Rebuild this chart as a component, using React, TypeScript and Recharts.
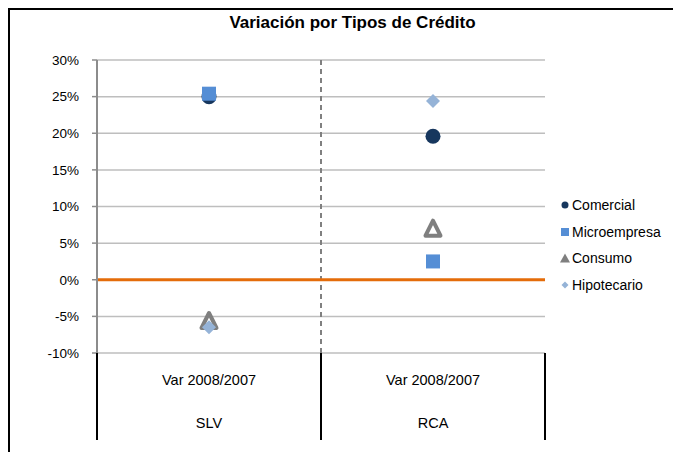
import React from 'react';
import {
  ScatterChart, Scatter, XAxis, YAxis, CartesianGrid, ReferenceLine,
} from 'recharts';

const categories = ['SLV', 'RCA'];
const subLabel = 'Var 2008/2007';
const comercial = [25.0, 19.6];
const microempresa = [25.4, 2.5];
const consumo = [-5.7, 6.9];
const hipotecario = [-6.5, 24.4];
const yTicks = [-10, -5, 0, 5, 10, 15, 20, 25, 30];

const FONT = '"Liberation Sans", Arial, Helvetica, sans-serif';

const toPoints = (vals: number[]) => vals.map((v, i) => ({ x: i + 0.5, y: v, cat: categories[i] }));

const xTicks: number[] = [];
for (let i = 0; i <= categories.length; i++) {
  xTicks.push(i);
  if (i < categories.length) xTicks.push(i + 0.5);
}

const Circle = (p: any) => <circle cx={p.cx} cy={p.cy} r={7.5} fill="#17375E" />;
const Square = (p: any) => <rect x={p.cx - 7} y={p.cy - 7} width={14} height={14} fill="#558ED5" />;
const Triangle = (p: any) => {
  const s = 7.5;
  const pts = `${p.cx},${p.cy - s - 1} ${p.cx + s},${p.cy + s - 1} ${p.cx - s},${p.cy + s - 1}`;
  return <polygon points={pts} fill="#FFFFFF" stroke="#7F7F7F" strokeWidth={4} strokeLinejoin="round" />;
};
const Diamond = (p: any) => {
  const s = 7;
  const pts = `${p.cx},${p.cy - s} ${p.cx + s},${p.cy} ${p.cx},${p.cy + s} ${p.cx - s},${p.cy}`;
  return <polygon points={pts} fill="#95B3D7" />;
};

const CatTick = (props: any) => {
  const { x, y, payload } = props;
  const v = payload.value as number;
  if (Number.isInteger(v)) {
    return (
      <g>
        <line x1={x} x2={x} y1={y} y2={y + 87} stroke="#000" strokeWidth={2} />
      </g>
    );
  }
  const name = categories[Math.floor(v)];
  return (
    <g>
      <text x={x} y={y + 32} textAnchor="middle" fontSize={14.5} fontFamily={FONT} fill="#000">{subLabel}</text>
      <text x={x} y={y + 75} textAnchor="middle" fontSize={14.5} fontFamily={FONT} fill="#000">{name}</text>
    </g>
  );
};

const legendItems = [
  { name: 'Comercial', icon: <circle cx={5} cy={6} r={3.5} fill="#17375E" /> },
  { name: 'Microempresa', icon: <rect x={1} y={2} width={8} height={8} fill="#558ED5" /> },
  { name: 'Consumo', icon: <polygon points="5,1.5 10,10.5 0,10.5" fill="#7F7F7F" /> },
  { name: 'Hipotecario', icon: <polygon points="5,2.5 8.5,6 5,9.5 1.5,6" fill="#95B3D7" /> },
];

const LegendBox = () => (
  <div style={{ position: 'absolute', left: 550, top: 182, fontFamily: FONT, fontSize: 14, color: '#000' }}>
    {legendItems.map((it) => (
      <div key={it.name} style={{ display: 'flex', alignItems: 'center', height: 26.5 }}>
        <svg width={10} height={12} style={{ marginRight: 2 }}>{it.icon}</svg>
        <span>{it.name}</span>
      </div>
    ))}
  </div>
);

export default function App() {
  return (
    <div style={{ width: 671, height: 442, borderLeft: '2px solid #000', borderTop: '2px solid #000', position: 'relative', background: '#fff' }}>
      <div style={{ position: 'absolute', left: 0, width: 671, top: 3, textAlign: 'center', fontFamily: FONT, fontWeight: 'bold', fontSize: 17, paddingLeft: 14, boxSizing: 'border-box' }}>
        Variación por Tipos de Crédito
      </div>
      <ScatterChart width={671} height={442} margin={{ top: 50, right: 136, bottom: 0, left: 0 }}>
        <CartesianGrid horizontal vertical={false} stroke="#BEBEBE" strokeWidth={1.5} />
        <XAxis
          type="number"
          dataKey="x"
          domain={[0, categories.length]}
          ticks={xTicks}
          interval={0}
          axisLine={false}
          tickLine={false}
          tickSize={0}
          tickMargin={0}
          height={99}
          tick={<CatTick />}
        />
        <YAxis
          type="number"
          dataKey="y"
          domain={[-10, 30]}
          ticks={yTicks}
          interval={0}
          width={87}
          tickFormatter={(v: number) => `${v}%`}
          axisLine={{ stroke: '#8C8C8C', strokeWidth: 2 }}
          tickLine={{ stroke: '#8C8C8C', strokeWidth: 1.5 }}
          tickSize={5}
          tickMargin={13}
          tick={{ fill: '#000', fontSize: 13.5, fontFamily: FONT }}
        />
        <ReferenceLine x={1} stroke="#808080" strokeWidth={2} strokeDasharray="5 4" />
        <ReferenceLine y={0} stroke="#E46C0A" strokeWidth={3} />
        <Scatter name="Comercial" data={toPoints(comercial)} shape={<Circle />} isAnimationActive={false} />
        <Scatter name="Microempresa" data={toPoints(microempresa)} shape={<Square />} isAnimationActive={false} />
        <Scatter name="Consumo" data={toPoints(consumo)} shape={<Triangle />} isAnimationActive={false} />
        <Scatter name="Hipotecario" data={toPoints(hipotecario)} shape={<Diamond />} isAnimationActive={false} />
      </ScatterChart>
      <LegendBox />
    </div>
  );
}
